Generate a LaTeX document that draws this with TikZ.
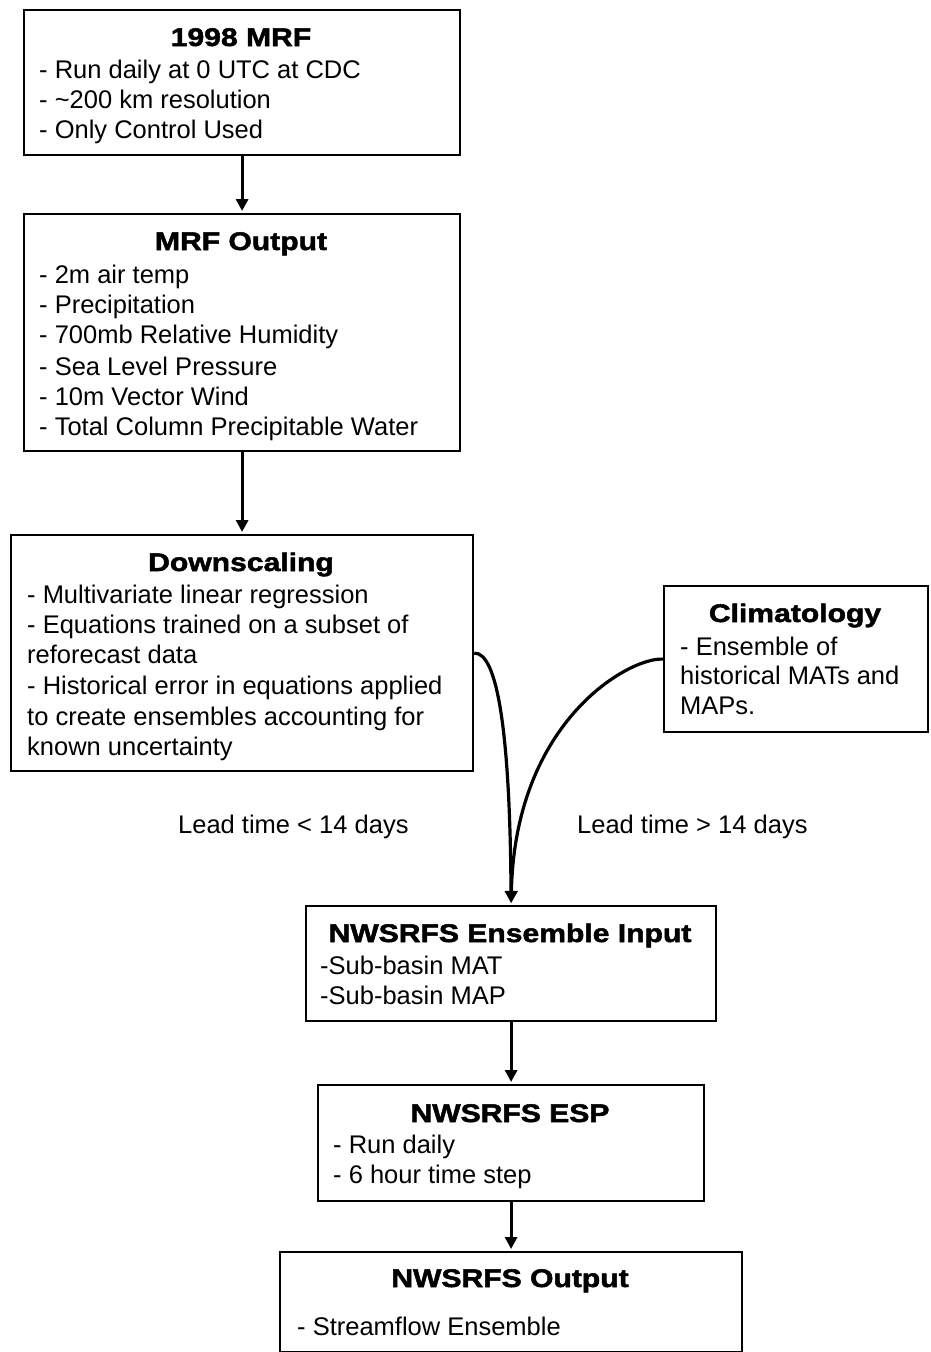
\documentclass[tikz,border=0pt]{standalone}
\usepackage{fontspec}
\setmainfont{Liberation Sans}
\newfontfamily\titlefam{Liberation Sans}[FakeStretch=1.18,FakeBold=2]
\usetikzlibrary{arrows.meta}
\tikzset{
  box/.style={draw, line width=2.2pt, inner sep=0pt, anchor=north west},
  ttl/.style={font=\titlefam\bfseries\fontsize{25.5}{30}\selectfont, anchor=base, inner sep=0pt},
  txt/.style={font=\fontsize{25.5}{30}\selectfont, anchor=base west, inner sep=0pt},
  lbl/.style={font=\fontsize{25.5}{30}\selectfont, anchor=base west, inner sep=0pt},
  arr/.style={-{Triangle[length=12pt,width=12pt]}, line width=3.2pt, shorten >=2pt},
}
\begin{document}
\begin{tikzpicture}[x=1pt,y=-1pt]
\useasboundingbox[fill=white] (0,0) rectangle (931,1352);

% boxes
\node[box, minimum width=436pt, minimum height=145pt] (b1) at (23,9) {};
\node[box, minimum width=436pt, minimum height=237pt] (b2) at (23,213) {};
\node[box, minimum width=462pt, minimum height=236pt] (b3) at (10,534) {};
\node[box, minimum width=264pt, minimum height=146pt] (b4) at (663,585) {};
\node[box, minimum width=410pt, minimum height=115pt] (b5) at (305,905) {};
\node[box, minimum width=386pt, minimum height=116pt] (b6) at (317,1084) {};
\node[box, minimum width=462pt, minimum height=100pt] (b7) at (279,1251) {};

% titles
\node[ttl] (t1) at (241,46) {1998 MRF};
\node[ttl] (t2) at (241,250) {MRF Output};
\node[ttl] (t3) at (241,571) {Downscaling};
\node[ttl] (t4) at (795,622) {Climatology};
\node[ttl] (t5) at (510,942) {NWSRFS Ensemble Input};
\node[ttl] (t6) at (510,1122) {NWSRFS ESP};
\node[ttl] (t7) at (510,1287) {NWSRFS Output};

% body texts
\foreach \y/\t [count=\i] in {78/{- Run daily at 0 UTC at CDC},108/{- \textasciitilde200 km resolution},138/{- Only Control Used}}
  \node[txt] (a\i) at (39,\y) {\t};
\foreach \y/\t [count=\i] in {283/{- 2m air temp},313/{- Precipitation},343/{- 700mb Relative Humidity},375/{- Sea Level Pressure},405/{- 10m Vector Wind},435/{- Total Column Precipitable Water}}
  \node[txt] (c\i) at (39,\y) {\t};
\foreach \y/\t [count=\i] in {603/{- Multivariate linear regression},633/{- Equations trained on a subset of},663/{reforecast data},694/{- Historical error in equations applied},725/{to create ensembles accounting for},755/{known uncertainty}}
  \node[txt] (d\i) at (27,\y) {\t};
\foreach \y/\t [count=\i] in {655/{- Ensemble of},684/{historical MATs and},714/{MAPs.}}
  \node[txt] (e\i) at (680,\y) {\t};
\foreach \y/\t [count=\i] in {974/{-Sub-basin MAT},1004/{-Sub-basin MAP}}
  \node[txt] (f\i) at (320,\y) {\t};
\foreach \y/\t [count=\i] in {1153/{- Run daily},1183/{- 6 hour time step}}
  \node[txt] (g\i) at (333,\y) {\t};
\node[txt] (h1) at (297,1335) {- Streamflow Ensemble};

% labels
\node[lbl] (l1) at (178,833) {Lead time < 14 days};
\node[lbl] (l2) at (577,833) {Lead time > 14 days};

% connectors
\draw[arr] (b1.south) -- (b2.north);
\draw[arr] (b2.south) -- (b3.north);
\draw[arr] (b3.east) .. controls (497,652) and (510,730) .. (b5.north);
\draw[arr] (b4.west) .. controls (630,657) and (515,720) .. (b5.north);
\draw[arr] (b5.south) -- (b6.north);
\draw[arr] (b6.south) -- (b7.north);
\end{tikzpicture}
\end{document}
